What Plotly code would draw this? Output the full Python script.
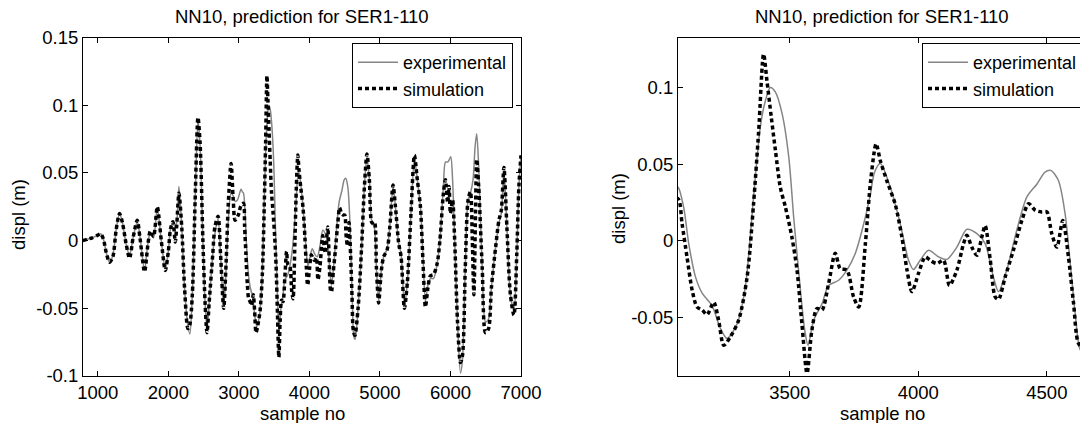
import plotly.graph_objects as go

# ---------------- data ----------------
exp_x = [787, 850, 920, 1000, 1040, 1080, 1120, 1166, 1213, 1260, 1308, 1350, 1400, 1450, 1500,
         1559, 1600, 1663, 1710, 1745, 1790, 1843, 1900, 1957, 2000, 2032, 2065, 2098, 2120, 2150,
         2190, 2230, 2270, 2305, 2340, 2380, 2420, 2450, 2490, 2520, 2548, 2580, 2630, 2660, 2705,
         2740, 2785, 2820, 2850, 2889, 2920, 2946, 2980, 3031, 3050, 3065, 3087, 3107, 3133, 3159,
         3197, 3230, 3256, 3295, 3327, 3359, 3385, 3405, 3424, 3444, 3470, 3496, 3515, 3534, 3558,
         3571, 3593, 3625, 3651, 3690, 3722, 3755, 3794, 3813, 3830, 3852, 3891, 3930, 3962, 3981,
         4007, 4040, 4079, 4111, 4150, 4189, 4228, 4260, 4292, 4312, 4344, 4383, 4422, 4461, 4493,
         4515, 4545, 4571, 4591, 4610, 4630, 4648, 4690, 4740, 4780, 4816, 4850, 4887, 4920, 4950,
         4982, 5020, 5053, 5101, 5140, 5186, 5220, 5266, 5300, 5347, 5390, 5440, 5489, 5530, 5574,
         5610, 5645, 5680, 5716, 5760, 5811, 5850, 5900, 5929, 5960, 5985, 6005, 6030, 6060, 6100,
         6142, 6170, 6210, 6250, 6283, 6320, 6350, 6372, 6400, 6450, 6497, 6540, 6580, 6640, 6687,
         6720, 6758, 6800, 6850, 6900, 6940, 6970, 7000]
exp_y = [0.0, 0.001, 0.002, 0.004, 0.005, 0.001, -0.009, -0.016, -0.011, 0.008, 0.020, 0.013, -0.002, -0.011, 0.002,
         0.014, 0.002, -0.022, -0.002, 0.006, 0.002, 0.024, 0.000, -0.021, -0.008, 0.009, 0.013, 0.010, 0.014, 0.040,
         0.010, -0.035, -0.060, -0.069, -0.040, 0.030, 0.089, 0.070, 0.000, -0.045, -0.066, -0.045, -0.010, 0.005, 0.016,
         -0.010, -0.049, -0.020, 0.015, 0.035, 0.033, 0.029, 0.030, 0.038, 0.036, 0.0351, 0.022, -0.002, -0.0234, -0.034,
         -0.042, -0.057, -0.0635, -0.054, -0.030, 0.0286, 0.074, 0.0914, 0.100, 0.097, 0.083, 0.0546, 0.0156, -0.019, -0.058,
         -0.068, -0.0516, -0.041, -0.029, -0.0256, -0.019, -0.008, 0.0156, 0.030, 0.045, 0.0505, 0.035, 0.011, -0.0126, -0.0186,
         -0.0126, -0.006, -0.0104, -0.012, -0.004, 0.0076, 0.0048, -0.0017, -0.0234, -0.033, -0.019, 0.007, 0.0286, 0.037, 0.0449,
         0.046, 0.0394, 0.0178, -0.0147, -0.047, -0.071, -0.073, -0.050, -0.005, 0.040, 0.062, 0.045, 0.013, 0.010, -0.020,
         -0.044, -0.022, -0.012, -0.006, 0.010, 0.040, 0.025, -0.002, -0.010, -0.048, -0.030, 0.020, 0.060, 0.045, 0.025,
         -0.010, -0.045, -0.033, -0.028, -0.028, -0.017, 0.000, 0.040, 0.058, 0.058, 0.060, 0.062, 0.045, 0.000, -0.060,
         -0.098, -0.088, -0.020, 0.030, 0.035, 0.045, 0.070, 0.079, 0.055, -0.020, -0.060, -0.058, -0.035, -0.005, 0.013,
         0.020, 0.052, 0.010, -0.040, -0.052, -0.010, 0.040, 0.063]

sim_x = [787, 850, 920, 1000, 1040, 1080, 1120, 1166, 1213, 1260, 1308, 1350, 1400, 1450, 1500,
         1559, 1600, 1663, 1710, 1745, 1790, 1843, 1900, 1957, 2000, 2032, 2065, 2098, 2120, 2150,
         2190, 2230, 2278, 2305, 2340, 2380, 2420, 2450, 2490, 2520, 2548, 2580, 2630, 2660, 2705,
         2740, 2785, 2820, 2850, 2889, 2920, 2946, 2993, 3030, 3065, 3081, 3100, 3120, 3139, 3159,
         3178, 3204, 3223, 3243, 3269, 3301, 3334, 3359, 3379, 3398, 3411, 3428, 3444, 3463, 3483,
         3508, 3528, 3547, 3567, 3586, 3606, 3625, 3651, 3677, 3696, 3722, 3748, 3768, 3794, 3815,
         3836, 3852, 3878, 3910, 3936, 3956, 3975, 4001, 4027, 4046, 4072, 4098, 4121, 4150, 4176,
         4189, 4208, 4228, 4247, 4260, 4280, 4299, 4312, 4338, 4370, 4403, 4429, 4455, 4480, 4500,
         4519, 4539, 4562, 4584, 4604, 4623, 4645, 4690, 4740, 4780, 4816, 4850, 4887, 4920, 4950,
         4982, 5020, 5053, 5101, 5140, 5186, 5220, 5266, 5300, 5347, 5390, 5440, 5489, 5530, 5574,
         5610, 5645, 5680, 5716, 5760, 5811, 5850, 5900, 5929, 5960, 5980, 6000, 6030, 6060, 6100,
         6142, 6170, 6210, 6250, 6283, 6310, 6332, 6355, 6372, 6400, 6450, 6497, 6540, 6580, 6640,
         6687, 6720, 6758, 6800, 6850, 6900, 6940, 6970, 7000]
sim_y = [0.0, 0.001, 0.002, 0.004, 0.005, 0.001, -0.009, -0.016, -0.012, 0.008, 0.020, 0.013, -0.002, -0.013, 0.002,
         0.015, 0.001, -0.023, -0.003, 0.007, 0.003, 0.025, 0.000, -0.022, -0.008, 0.009, 0.014, -0.001, 0.012, 0.035,
         0.010, -0.035, -0.065, -0.062, -0.040, 0.030, 0.091, 0.072, 0.000, -0.045, -0.068, -0.045, -0.010, 0.010, 0.018,
         -0.010, -0.050, -0.015, 0.027, 0.057, 0.030, 0.015, 0.019, 0.026, 0.0275, 0.011, -0.0104, -0.032, -0.043, -0.045,
         -0.048, -0.040, -0.0516, -0.068, -0.0624, -0.0516, -0.0234, 0.0243, 0.072, 0.1218, 0.1045, 0.0806, 0.059, 0.035, 0.022,
         0.0026, -0.019, -0.0537, -0.0862, -0.058, -0.044, -0.045, -0.0277, -0.008, -0.018, -0.019, -0.0364, -0.043, -0.0017, 0.040,
         0.0633, 0.0524, 0.039, 0.024, 0.0026, -0.019, -0.033, -0.021, -0.0104, -0.0126, -0.0147, -0.0126, -0.029, -0.019, -0.0017,
         0.0037, -0.004, -0.0093, 0.0026, 0.010, -0.0126, -0.0364, -0.038, -0.0234, -0.006, 0.0134, 0.0243, 0.020, 0.0189, 0.0189,
         0.0048, -0.004, 0.0134, -0.0104, -0.0407, -0.0667, -0.070, -0.050, -0.005, 0.040, 0.064, 0.045, 0.013, 0.014, -0.020,
         -0.046, -0.022, -0.012, -0.007, 0.010, 0.041, 0.025, -0.002, -0.012, -0.050, -0.030, 0.020, 0.063, 0.045, 0.025,
         -0.015, -0.049, -0.035, -0.026, -0.025, -0.017, 0.000, 0.035, 0.045, 0.028, 0.040, 0.020, 0.030, 0.000, -0.060,
         -0.090, -0.085, -0.020, 0.030, 0.036, 0.000, -0.040, 0.020, 0.060, 0.040, -0.020, -0.068, -0.065, -0.035, -0.005,
         0.015, 0.022, 0.054, 0.010, -0.040, -0.055, -0.010, 0.040, 0.063]

series_names = ["experimental", "simulation"]
title_text = "NN10, prediction for SER1-110"
x_label = "sample no"
y_label = "displ (m)"

left_xticks = [1000, 2000, 3000, 4000, 5000, 6000, 7000]
left_yticks = [0.15, 0.1, 0.05, 0, -0.05, -0.1]
left_yticktext = ["0.15", "0.1", "0.05", "0", "-0.05", "-0.1"]
right_xticks = [3500, 4000, 4500]
right_yticks = [0.1, 0.05, 0, -0.05]
right_yticktext = ["0.1", "0.05", "0", "-0.05"]

# ---------------- figure ----------------
W, H = 1080, 423
FONT = "Liberation Sans, Arial, sans-serif"
FS = 18.5
LFS = 18

fig = go.Figure()
for xa, ya, lg in [("x", "y", "legend"), ("x2", "y2", "legend2")]:
    fig.add_trace(go.Scatter(x=exp_x, y=exp_y, mode="lines", name=series_names[0],
                             line=dict(color="#858585", width=1.5, shape="spline", smoothing=0.8),
                             xaxis=xa, yaxis=ya, legend=lg))
    fig.add_trace(go.Scatter(x=sim_x, y=sim_y, mode="lines", name=series_names[1],
                             line=dict(color="black", width=3.5, dash="4px,3px", shape="spline", smoothing=0.8),
                             xaxis=xa, yaxis=ya, legend=lg))

def ax(**kw):
    base = dict(showline=True, linecolor="black", linewidth=1, ticks="inside", ticklen=5,
                tickcolor="black", tickwidth=1, showgrid=False, zeroline=False,
                tickfont=dict(family=FONT, size=FS, color="black"))
    base.update(kw)
    return base

ydom = [1 - 376 / H, 1 - 37.5 / H]
leg_common = dict(yanchor="top", bgcolor="white", bordercolor="black", borderwidth=1,
                  font=dict(family=FONT, size=LFS), tracegroupgap=0, itemwidth=40)
fig.update_layout(
    width=W, height=H,
    paper_bgcolor="white", plot_bgcolor="white",
    margin=dict(l=0, r=0, t=0, b=0, autoexpand=False),
    font=dict(family=FONT, size=FS, color="black"),
    xaxis=ax(domain=[83 / W, 521 / W], anchor="y", range=[790, 7000], tickvals=left_xticks,
             mirror="ticks"),
    yaxis=ax(domain=ydom, anchor="x", range=[-0.1, 0.15], tickvals=left_yticks,
             ticktext=left_yticktext, mirror="ticks"),
    xaxis2=ax(domain=[678 / W, 1.0], anchor="y2", range=[3065, 4629], tickvals=right_xticks,
              mirror="ticks"),
    yaxis2=ax(domain=ydom, anchor="x2", range=[-0.088, 0.1326], tickvals=right_yticks,
              ticktext=right_yticktext, mirror=False),
    legend=dict(x=513 / W, xanchor="right", y=1 - 43 / H, **leg_common),
    legend2=dict(x=922 / W, xanchor="left", y=1 - 43 / H, **leg_common),
    showlegend=True,
)

ann = []
for cx in (302, 882):
    ann.append(dict(x=cx / W, y=1 - 17 / H, xref="paper", yref="paper", text=title_text,
                    showarrow=False, xanchor="center", yanchor="middle", font=dict(size=FS)))
    ann.append(dict(x=cx / W, y=1 - 413 / H, xref="paper", yref="paper", text=x_label,
                    showarrow=False, xanchor="center", yanchor="middle", font=dict(size=FS)))
for cx, cy in ((19, 215), (619, 209)):
    ann.append(dict(x=cx / W, y=1 - cy / H, xref="paper", yref="paper", text=y_label,
                    showarrow=False, xanchor="center", yanchor="middle", textangle=-90,
                    font=dict(size=FS)))
fig.update_layout(annotations=ann)

fig.write_html("out.html",
               config={"displayModeBar": False, "staticPlot": True},
               post_script="document.body.style.margin='0px';document.body.style.overflow='hidden';")
